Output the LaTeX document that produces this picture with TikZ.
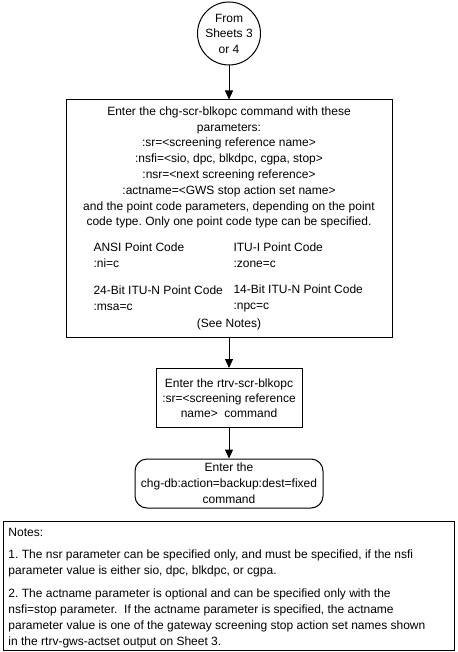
\documentclass[tikz,border=0pt]{standalone}
\usepackage{fontspec}
\setmainfont{Liberation Sans}
\usetikzlibrary{arrows.meta}
\begin{document}
\frenchspacing
\begin{tikzpicture}[x=1pt,y=-1pt,
  line width=1pt,
  txt/.style={font=\fontsize{12}{15.8}\selectfont, inner sep=0pt},
  box/.style={draw, inner sep=0pt, line width=1pt},
  arr/.style={-{Triangle[width=8pt,length=9pt]}, line width=1pt}]
\useasboundingbox (0,0) rectangle (457,652);
% start connector
\node[box, circle, minimum size=63pt, txt, align=center, font=\fontsize{12}{15.5}\selectfont] (from) at (229,33.5) {From\\Sheets 3\\or 4};
% main command box
\node[box, minimum width=326pt, minimum height=237pt] (cmd) at (229,218.5) {};
\node[txt, align=center] (cmdtext) at (229,167.5) {Enter the chg-scr-blkopc command with these\\parameters:\\:sr=<screening reference name>\\:nsfi=<sio, dpc, blkdpc, cgpa, stop>\\:nsr=<next screening reference>\\:actname=<GWS stop action set name>\\and the point code parameters, depending on the point\\code type. Only one point code type can be specified.};
\node[txt, align=left, anchor=west] (ansi) at (93,255.5) {ANSI Point Code\\:ni=c};
\node[txt, align=left, anchor=west] (itui) at (233,255.5) {ITU-I Point Code\\:zone=c};
\node[txt, align=left, anchor=west] (bit24) at (93,298.5) {24-Bit ITU-N Point Code\\:msa=c};
\node[txt, align=left, anchor=west] (bit14) at (233,298.5) {14-Bit ITU-N Point Code\\:npc=c};
\node[txt] (seenotes) at (229,324) {(See Notes)};
% retrieve box
\node[box, txt, align=center, minimum width=146pt, minimum height=59pt, font=\fontsize{12}{15.2}\selectfont] (rtrv) at (229,398) {Enter the rtrv-scr-blkopc\\:sr=<screening reference\\name>~ command};
% backup box
\node[box, txt, rounded corners=12pt, align=center, minimum width=188pt, minimum height=49pt] (db) at (229,483.5) {Enter the\\chg-db:action=backup:dest=fixed\\command};
% notes
\node[box, minimum width=451pt, minimum height=129pt, anchor=north west] (notes) at (3,521) {};
\node[txt, align=left, anchor=west, font=\fontsize{12}{16}\selectfont] (notestext) at (8,588.5) {Notes:\\[6pt]1. The nsr parameter can be specified only, and must be specified, if the nsfi\\parameter value is either sio, dpc, blkdpc, or cgpa.\\[7pt]2. The actname parameter is optional and can be specified only with the\\nsfi=stop parameter.~ If the actname parameter is specified, the actname\\parameter value is one of the gateway screening stop action set names shown\\in the rtrv-gws-actset output on Sheet 3.};
% connectors
\draw[arr] (from.south) -- (cmd.north);
\draw[arr] (cmd.south) -- (rtrv.north);
\draw[arr] (rtrv.south) -- (db.north);
\end{tikzpicture}
\end{document}
